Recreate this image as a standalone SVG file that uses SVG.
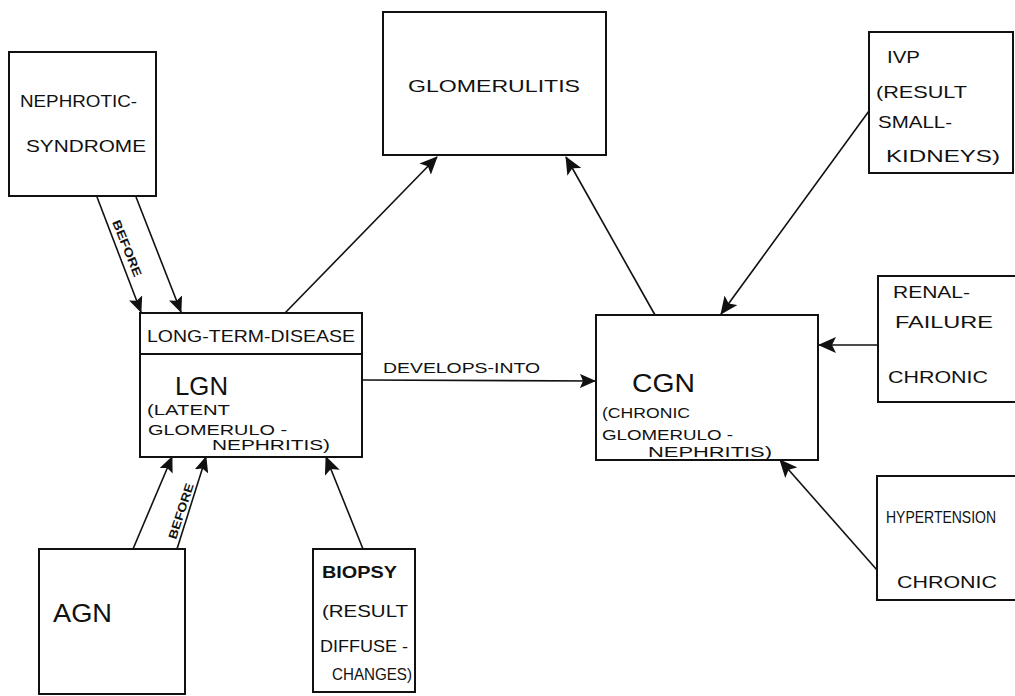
<svg xmlns="http://www.w3.org/2000/svg" width="1015" height="696" viewBox="0 0 1015 696">
<style>
.box{fill:none;stroke:#111;stroke-width:2}
.ln{fill:none;stroke:#111;stroke-width:1.6}
text{font-family:"Liberation Sans",Arial,sans-serif;fill:#111}
.t{font-size:17px}
.big{font-size:26px}
.sm{font-size:14px}
.lab{font-size:12px;font-weight:bold}
</style>
<defs>
<marker id="ah" viewBox="0 0 16 14" refX="15" refY="7" markerWidth="16" markerHeight="14" markerUnits="userSpaceOnUse" orient="auto">
<path d="M0,0 L16,7 L0,14 L3,7 Z" fill="#111"/>
</marker>
<marker id="ahL" viewBox="0 0 18 16" refX="17" refY="8" markerWidth="18" markerHeight="16" markerUnits="userSpaceOnUse" orient="auto">
<path d="M0,0 L18,8 L0,16 L4,8 Z" fill="#111"/>
</marker>
</defs>
<rect width="1015" height="696" fill="#fff"/>

<g id="connectors">
<line class="ln" x1="97" y1="197" x2="141" y2="312" marker-end="url(#ah)"/>
<line class="ln" x1="136" y1="197" x2="181" y2="312" marker-end="url(#ah)"/>
<text class="lab" x="0" y="0" transform="translate(112,222) rotate(68)" textLength="60" lengthAdjust="spacingAndGlyphs">BEFORE</text>
<line class="ln" x1="285" y1="313" x2="437" y2="157" marker-end="url(#ahL)"/>
<line class="ln" x1="362" y1="380" x2="595" y2="381" marker-end="url(#ah)"/>
<text class="sm" x="383" y="373" textLength="157" lengthAdjust="spacingAndGlyphs">DEVELOPS-INTO</text>
<line class="ln" x1="655" y1="315" x2="566" y2="157" marker-end="url(#ahL)"/>
<line class="ln" x1="869" y1="111" x2="721" y2="314" marker-end="url(#ahL)"/>
<line class="ln" x1="878" y1="345" x2="819" y2="345" marker-end="url(#ahL)"/>
<line class="ln" x1="877" y1="570" x2="780" y2="460" marker-end="url(#ahL)"/>
<line class="ln" x1="133" y1="549" x2="172" y2="457" marker-end="url(#ah)"/>
<line class="ln" x1="177" y1="549" x2="206" y2="457" marker-end="url(#ah)"/>
<text class="lab" x="0" y="0" transform="translate(176,540) rotate(-72)" textLength="58" lengthAdjust="spacingAndGlyphs">BEFORE</text>
<line class="ln" x1="363" y1="549" x2="326" y2="457" marker-end="url(#ahL)"/>
</g>

<g id="nephrotic">
<rect class="box" x="9" y="52" width="147" height="144"/>
<text class="t" x="20" y="107" textLength="117" lengthAdjust="spacingAndGlyphs">NEPHROTIC-</text>
<text class="t" x="26" y="152" textLength="120" lengthAdjust="spacingAndGlyphs">SYNDROME</text>
</g>

<g id="glomerulitis">
<rect class="box" x="383" y="12" width="223" height="143"/>
<text class="t" x="408" y="92" font-size="20" textLength="172" lengthAdjust="spacingAndGlyphs">GLOMERULITIS</text>
</g>

<g id="ivp">
<rect class="box" x="869" y="32" width="144" height="141"/>
<text class="t" x="887" y="63" font-size="20" textLength="33" lengthAdjust="spacingAndGlyphs">IVP</text>
<text class="t" x="876" y="98" textLength="91" lengthAdjust="spacingAndGlyphs">(RESULT</text>
<text class="t" x="878" y="128" textLength="74" lengthAdjust="spacingAndGlyphs">SMALL-</text>
<text class="t" x="886" y="162" textLength="114" lengthAdjust="spacingAndGlyphs">KIDNEYS)</text>
</g>

<g id="ltd-lgn">
<rect class="box" x="140" y="313" width="222" height="144"/>
<line class="box" x1="140" y1="354" x2="362" y2="354"/>
<text class="t" x="147" y="342" textLength="208" lengthAdjust="spacingAndGlyphs">LONG-TERM-DISEASE</text>
<text class="big" x="175" y="395" textLength="53" lengthAdjust="spacingAndGlyphs">LGN</text>
<text class="sm" x="147" y="415" textLength="83" lengthAdjust="spacingAndGlyphs">(LATENT</text>
<text class="sm" x="148" y="435" textLength="139" lengthAdjust="spacingAndGlyphs">GLOMERULO -</text>
<text class="sm" x="212" y="450" textLength="118" lengthAdjust="spacingAndGlyphs">NEPHRITIS)</text>
</g>

<g id="cgn">
<rect class="box" x="596" y="315" width="222" height="145"/>
<text class="big" x="632" y="392" textLength="63" lengthAdjust="spacingAndGlyphs">CGN</text>
<text class="sm" x="602" y="418" textLength="88" lengthAdjust="spacingAndGlyphs">(CHRONIC</text>
<text class="sm" x="602" y="440" textLength="131" lengthAdjust="spacingAndGlyphs">GLOMERULO -</text>
<text class="sm" x="648" y="457" textLength="124" lengthAdjust="spacingAndGlyphs">NEPHRITIS)</text>
</g>

<g id="renal-failure">
<path class="box" d="M1015,276 H878 V402 H1015"/>
<text class="t" x="893" y="298" textLength="77" lengthAdjust="spacingAndGlyphs">RENAL-</text>
<text class="t" x="895" y="328" textLength="98" lengthAdjust="spacingAndGlyphs">FAILURE</text>
<text class="t" x="888" y="383" textLength="100" lengthAdjust="spacingAndGlyphs">CHRONIC</text>
</g>

<g id="hypertension">
<path class="box" d="M1015,476 H877 V600 H1015"/>
<text class="t" x="886" y="523" font-size="15" textLength="110" lengthAdjust="spacingAndGlyphs">HYPERTENSION</text>
<text class="t" x="897" y="588" textLength="100" lengthAdjust="spacingAndGlyphs">CHRONIC</text>
</g>

<g id="agn">
<rect class="box" x="39" y="549" width="146" height="145"/>
<text class="big" x="53" y="622" font-size="27" textLength="59" lengthAdjust="spacingAndGlyphs">AGN</text>
</g>

<g id="biopsy">
<rect class="box" x="313" y="549" width="102" height="143"/>
<text class="t" x="322" y="578" font-weight="bold" textLength="75" lengthAdjust="spacingAndGlyphs">BIOPSY</text>
<text class="t" x="322" y="617" textLength="86" lengthAdjust="spacingAndGlyphs">(RESULT</text>
<text class="t" x="320" y="652" textLength="88" lengthAdjust="spacingAndGlyphs">DIFFUSE -</text>
<text class="t" x="332" y="680" textLength="80" lengthAdjust="spacingAndGlyphs">CHANGES)</text>
</g>
</svg>
